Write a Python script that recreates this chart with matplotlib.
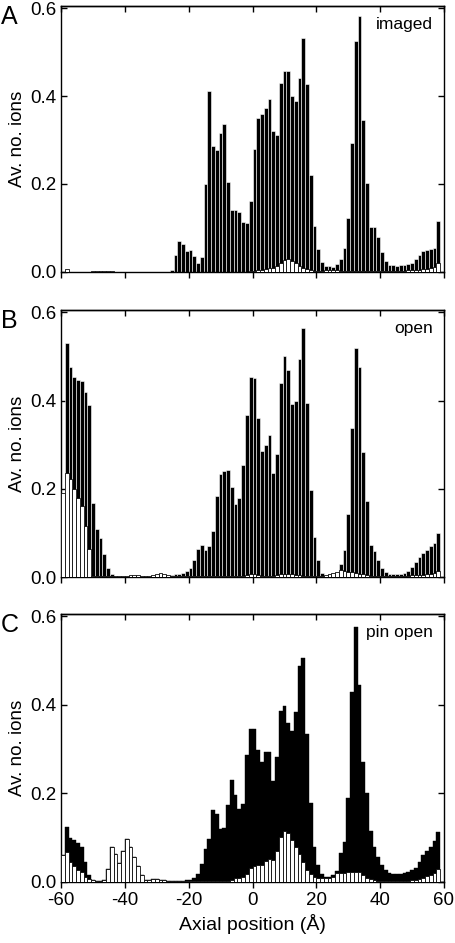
import numpy as np
import matplotlib
matplotlib.use("Agg")
import matplotlib.pyplot as plt

plt.rcParams['font.family'] = ['Liberation Sans', 'DejaVu Sans']

# 102 bins from -60 to 60 Å
x_min, x_max, n_bins = -60.0, 60.0, 102

imaged_total = [
    0, 0.006, 0, 0, 0, 0, 0, 0, 0.002, 0.002,
    0.002, 0.002, 0.002, 0.002, 0, 0, 0, 0, 0, 0,
    0, 0, 0, 0, 0, 0, 0, 0, 0, 0.005,
    0.038, 0.07, 0.063, 0.048, 0.049, 0.036, 0.019, 0.033, 0.2, 0.412,
    0.287, 0.277, 0.316, 0.336, 0.205, 0.14, 0.14, 0.135, 0.114, 0.111,
    0.16, 0.279, 0.351, 0.359, 0.373, 0.394, 0.321, 0.312, 0.429, 0.456,
    0.456, 0.4, 0.389, 0.442, 0.533, 0.427, 0.221, 0.105, 0.052, 0.023,
    0.014, 0.012, 0.011, 0.017, 0.03, 0.053, 0.123, 0.294, 0.526, 0.583,
    0.345, 0.202, 0.102, 0.101, 0.08, 0.045, 0.024, 0.015, 0.015, 0.014,
    0.015, 0.015, 0.017, 0.02, 0.028, 0.039, 0.048, 0.05, 0.052, 0.054,
    0.115, 0,
]
imaged_other = [
    0, 0.006, 0, 0, 0, 0, 0, 0, 0.002, 0.002,
    0.002, 0.002, 0.002, 0.002, 0, 0, 0, 0, 0, 0,
    0, 0, 0, 0, 0, 0, 0, 0, 0, 0,
    0, 0, 0, 0, 0, 0, 0, 0, 0, 0,
    0, 0, 0, 0, 0, 0, 0, 0, 0, 0,
    0.001, 0.002, 0.003, 0.004, 0.006, 0.008, 0.009, 0.013, 0.02, 0.027,
    0.028, 0.025, 0.019, 0.013, 0.009, 0.006, 0.004, 0.002, 0.002, 0.002,
    0.003, 0.003, 0.003, 0.003, 0.002, 0.002, 0.002, 0.002, 0.002, 0.002,
    0.002, 0.002, 0.002, 0.002, 0.002, 0.002, 0.002, 0.002, 0.002, 0.002,
    0.002, 0.002, 0.003, 0.003, 0.004, 0.005, 0.006, 0.007, 0.008, 0.01,
    0.02, 0,
]

open_total = [
    0.19, 0.53, 0.475, 0.453, 0.447, 0.445, 0.42, 0.39, 0.168, 0.11,
    0.09, 0.052, 0.02, 0.007, 0.004, 0.003, 0.003, 0.004, 0.005, 0.006,
    0.005, 0.004, 0.004, 0.004, 0.005, 0.008, 0.01, 0.008, 0.006, 0.006,
    0.007, 0.008, 0.01, 0.014, 0.022, 0.04, 0.065, 0.072, 0.062, 0.07,
    0.105, 0.183, 0.233, 0.24, 0.243, 0.205, 0.165, 0.18, 0.255, 0.368,
    0.453, 0.45, 0.36, 0.285, 0.3, 0.323, 0.237, 0.278, 0.44, 0.5,
    0.47, 0.393, 0.4, 0.495, 0.565, 0.395, 0.198, 0.092, 0.04, 0.01,
    0.005, 0.008, 0.01, 0.012, 0.03, 0.062, 0.143, 0.338, 0.52, 0.477,
    0.283, 0.172, 0.073, 0.06, 0.04, 0.02, 0.012, 0.008, 0.008, 0.008,
    0.008, 0.01, 0.015, 0.023, 0.035, 0.045, 0.055, 0.062, 0.07, 0.078,
    0.1, 0,
]
open_other = [
    0.19, 0.235, 0.223, 0.2, 0.179, 0.162, 0.115, 0.064, 0.004, 0.003,
    0.002, 0.002, 0.002, 0.003, 0.003, 0.003, 0.003, 0.004, 0.005, 0.006,
    0.005, 0.004, 0.004, 0.004, 0.005, 0.008, 0.01, 0.008, 0.005, 0.004,
    0.004, 0.004, 0.003, 0.003, 0.002, 0.002, 0.002, 0.002, 0.002, 0.002,
    0.002, 0.002, 0.002, 0.002, 0.002, 0.003, 0.003, 0.003, 0.003, 0.005,
    0.007, 0.007, 0.006, 0.004, 0.004, 0.004, 0.004, 0.006, 0.007, 0.008,
    0.008, 0.008, 0.006, 0.005, 0.004, 0.004, 0.003, 0.003, 0.003, 0.004,
    0.005, 0.008, 0.01, 0.012, 0.016, 0.014, 0.013, 0.012, 0.01, 0.008,
    0.007, 0.006, 0.004, 0.003, 0.003, 0.003, 0.003, 0.003, 0.003, 0.003,
    0.003, 0.004, 0.004, 0.005, 0.005, 0.006, 0.006, 0.007, 0.008, 0.01,
    0.014, 0,
]

pin_total = [
    0.06, 0.125, 0.1, 0.095, 0.088, 0.08, 0.045, 0.015, 0.005, 0.003,
    0.003, 0.004, 0.03, 0.08, 0.063, 0.043, 0.07, 0.097, 0.078, 0.057,
    0.037, 0.015, 0.004, 0.004, 0.007, 0.006, 0.005, 0.004, 0.003, 0.002,
    0.002, 0.002, 0.003, 0.004, 0.005, 0.008, 0.017, 0.04, 0.074, 0.098,
    0.163, 0.154, 0.12, 0.123, 0.174, 0.231, 0.197, 0.164, 0.176, 0.286,
    0.345, 0.345, 0.297, 0.271, 0.293, 0.293, 0.229, 0.283, 0.386, 0.398,
    0.358, 0.342, 0.383, 0.488, 0.505, 0.335, 0.178, 0.08, 0.039, 0.019,
    0.011, 0.011, 0.015, 0.025, 0.065, 0.09, 0.19, 0.43, 0.576, 0.445,
    0.27, 0.2, 0.115, 0.078, 0.056, 0.038, 0.026, 0.02, 0.018, 0.018,
    0.018, 0.02, 0.022, 0.026, 0.032, 0.045, 0.06, 0.07, 0.08, 0.092,
    0.114, 0,
]
pin_other = [
    0.06, 0.067, 0.045, 0.035, 0.028, 0.022, 0.012, 0.006, 0.004, 0.003,
    0.003, 0.004, 0.03, 0.08, 0.063, 0.043, 0.07, 0.097, 0.078, 0.057,
    0.037, 0.015, 0.004, 0.004, 0.007, 0.006, 0.005, 0.004, 0.003, 0.002,
    0.002, 0.002, 0.003, 0.003, 0.002, 0.002, 0.002, 0.002, 0.002, 0.002,
    0.002, 0.002, 0.002, 0.002, 0.003, 0.004, 0.008, 0.01, 0.012, 0.019,
    0.032, 0.036, 0.039, 0.039, 0.047, 0.053, 0.049, 0.07, 0.102, 0.115,
    0.111, 0.095, 0.08, 0.063, 0.045, 0.027, 0.017, 0.011, 0.01, 0.008,
    0.008, 0.008, 0.012, 0.02, 0.021, 0.021, 0.022, 0.023, 0.023, 0.022,
    0.016, 0.01, 0.006, 0.004, 0.003, 0.003, 0.003, 0.003, 0.003, 0.003,
    0.003, 0.003, 0.003, 0.004, 0.005, 0.007, 0.01, 0.013, 0.016, 0.02,
    0.03, 0,
]

panel_letters = ["A", "B", "C"]
panel_labels = ["imaged", "open", "pin open"]
x_ticks = [-60, -40, -20, 0, 20, 40, 60]
y_ticks = [0.0, 0.2, 0.4, 0.6]

edges = np.linspace(x_min, x_max, n_bins + 1)
width = edges[1] - edges[0]

W, H = 455, 943
fig = plt.figure(figsize=(W / 100, H / 100), dpi=100)

# (top, bottom) in pixels for each panel
panel_px = [(6, 271.7), (310, 577.3), (614, 882)]
left_px, right_px = 61, 444
sep_color = ['white', 'white', 'black']
sep_lw = [0.4, 0.4, 0.3]

datasets = [(imaged_total, imaged_other), (open_total, open_other), (pin_total, pin_other)]

for i, ((top, bot), (tot, oth)) in enumerate(zip(panel_px, datasets)):
    ax = fig.add_axes([left_px / W, 1 - bot / H, (right_px - left_px) / W, (bot - top) / H])
    ax.bar(edges[:-1], tot, width=width, align='edge', color='black',
           edgecolor=sep_color[i], linewidth=sep_lw[i], zorder=2)
    ax.bar(edges[:-1], oth, width=width, align='edge', facecolor='white',
           edgecolor='black', linewidth=0.55, zorder=3)
    ax.set_xlim(x_min, x_max)
    ax.set_ylim(0, 0.605)
    ax.set_xticks(x_ticks)
    ax.set_yticks(y_ticks)
    ax.set_yticklabels([f"{v:.1f}" for v in y_ticks])
    ax.tick_params(axis='y', which='both', direction='in', left=True, right=True,
                   length=4.5, width=1.0, labelsize=13.5, pad=3)
    ax.tick_params(axis='x', which='both', direction='out', bottom=True, top=False,
                   length=4.5, width=1.0, labelsize=13.5, pad=3)
    sec = ax.secondary_xaxis('top')
    sec.set_xticks(x_ticks)
    sec.tick_params(direction='in', length=4.5, width=1.0, labeltop=False)
    sec.spines['top'].set_linewidth(1.0)
    if i < 2:
        ax.set_xticklabels([])
    else:
        ax.set_xticklabels([str(t) for t in x_ticks])
        ax.set_xlabel("Axial position (Å)", fontsize=14, labelpad=3)
    for s in ax.spines.values():
        s.set_linewidth(1.0)
    ax.set_ylabel("Av. no. ions", fontsize=13.5, labelpad=3)
    ax.text(0.972, 0.96, panel_labels[i], transform=ax.transAxes,
            ha='right', va='top', fontsize=12.5)
    fig.text(1 / W, 1 - (top - 1) / H, panel_letters[i], ha='left', va='top', fontsize=18)

fig.savefig("out.png", dpi=100)
